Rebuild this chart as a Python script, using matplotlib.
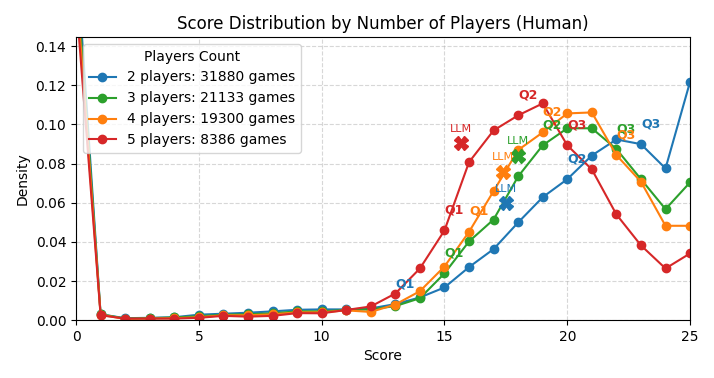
import matplotlib
matplotlib.use("Agg")
import matplotlib.pyplot as plt
import numpy as np

scores = list(range(26))

labels = ["2 players: 31880 games", "3 players: 21133 games",
          "4 players: 19300 games", "5 players: 8386 games"]
colors = ["#1f77b4", "#2ca02c", "#ff7f0e", "#d62728"]

dens_2p = [0.190, 0.0030, 0.0010, 0.0012, 0.0015, 0.0028, 0.0033, 0.0038, 0.0045, 0.0053,
           0.0055, 0.0055, 0.0060, 0.0082, 0.0116, 0.0167, 0.0271, 0.0363, 0.0499, 0.0628,
           0.0720, 0.0841, 0.0923, 0.0899, 0.0775, 0.1218]
dens_3p = [0.180, 0.0030, 0.0008, 0.0010, 0.0014, 0.0020, 0.0028, 0.0030, 0.0035, 0.0045,
           0.0045, 0.0052, 0.0055, 0.0072, 0.0112, 0.0239, 0.0402, 0.0514, 0.0734, 0.0893,
           0.0980, 0.0980, 0.0874, 0.0720, 0.0567, 0.0704]
dens_4p = [0.172, 0.0028, 0.0006, 0.0008, 0.0010, 0.0015, 0.0025, 0.0025, 0.0030, 0.0040,
           0.0040, 0.0050, 0.0042, 0.0080, 0.0148, 0.0274, 0.0451, 0.0659, 0.0869, 0.0959,
           0.1056, 0.1061, 0.0843, 0.0707, 0.0482, 0.0482]
dens_5p = [0.164, 0.0025, 0.0008, 0.0008, 0.0008, 0.0012, 0.0022, 0.0018, 0.0022, 0.0036,
           0.0035, 0.0052, 0.0070, 0.0136, 0.0264, 0.0458, 0.0807, 0.0969, 0.1046, 0.1107,
           0.0893, 0.0770, 0.0540, 0.0382, 0.0264, 0.0341]

quartiles_2p = [13, 20, 23]
quartiles_3p = [15, 19, 22]
quartiles_4p = [16, 19, 22]
quartiles_5p = [15, 18, 20]

llm_x = [17.51, 18.0, 17.4, 15.68]
llm_y = [0.0596, 0.0838, 0.0758, 0.0903]

series = [dens_2p, dens_3p, dens_4p, dens_5p]
quarts = [quartiles_2p, quartiles_3p, quartiles_4p, quartiles_5p]

fig, ax = plt.subplots(figsize=(7.14, 3.78), dpi=100)
fig.subplots_adjust(left=0.1065, right=0.9665, top=0.902, bottom=0.153)

for dens, lab, col in zip(series, labels, colors):
    ax.plot(scores, dens, marker='o', color=col, label=lab, linewidth=1.5, markersize=6)

for dens, q, col in zip(series, quarts, colors):
    for i, qs in enumerate(q):
        ax.annotate(f"Q{i+1}", xy=(qs, dens[qs]), xytext=(0, 10), textcoords='offset points',
                    ha='left', va='bottom', color=col, fontsize=9, fontweight='bold')

for lx, ly, col in zip(llm_x, llm_y, colors):
    ax.plot([lx], [ly], marker='X', color=col, markersize=10, linestyle='none')
    ax.annotate("LLM", xy=(lx, ly), xytext=(0, 7), textcoords='offset points',
                ha='center', va='bottom', color=col, fontsize=8)

ax.set_xlim(0, 25)
ax.set_ylim(0, 0.1446)
ax.set_xticks([0, 5, 10, 15, 20, 25])
ax.grid(True, linestyle='--', alpha=0.5)
ax.set_xlabel("Score")
ax.set_ylabel("Density")
ax.set_title("Score Distribution by Number of Players (Human)")
ax.legend(title="Players Count", loc='upper left')

fig.savefig("out.png", dpi=100)
